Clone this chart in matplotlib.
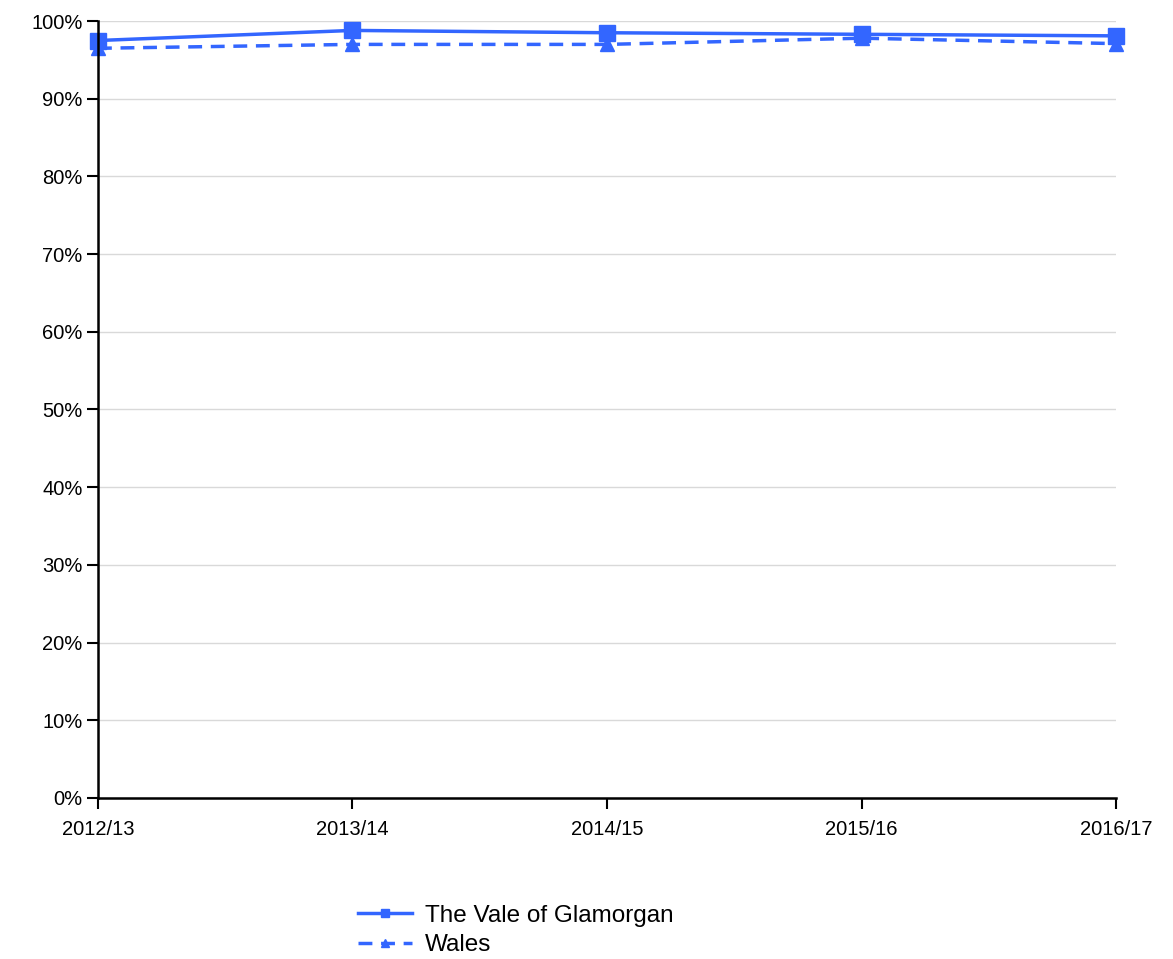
import matplotlib
matplotlib.use('Agg')
import matplotlib.pyplot as plt
import matplotlib.ticker as ticker

years = ['2012/13', '2013/14', '2014/15', '2015/16', '2016/17']
vale = [97.5, 98.8, 98.5, 98.3, 98.1]
wales = [96.5, 97.0, 97.0, 97.8, 97.1]

colour = '#3366ff'


def main():
    plt.rc('font', family=['Liberation Sans', 'DejaVu Sans'], size=14)

    fig = plt.figure(figsize=(11.73, 9.59), dpi=100)
    ax = fig.add_axes([0.0835, 0.168, 0.868, 0.81])

    x = list(range(len(years)))
    ax.plot(x, vale, '-', color=colour, lw=2.5, marker='s', markersize=11,
            clip_on=False, label='The Vale of Glamorgan')
    ax.plot(x, wales, '--', color=colour, lw=2.5, marker='^', markersize=10,
            dashes=(4, 2.5), clip_on=False, label='Wales')

    ax.set_xlim(0, len(years) - 1)
    ax.set_ylim(0, 100)
    ax.set_xticks(x)
    ax.set_xticklabels(years)
    ax.yaxis.set_major_locator(ticker.MultipleLocator(10))
    ax.yaxis.set_major_formatter(ticker.FuncFormatter(lambda v, p: f'{v:.0f}%'))
    ax.tick_params(axis='both', direction='out', length=8, width=1.5,
                   colors='black', labelsize=14.5)
    ax.tick_params(axis='y', pad=3)
    ax.tick_params(axis='x', pad=8)

    ax.grid(axis='y', color='#d9d9d9', lw=1)
    ax.set_axisbelow(True)
    for side in ('top', 'right'):
        ax.spines[side].set_visible(False)
    for side in ('left', 'bottom'):
        ax.spines[side].set_linewidth(1.8)
        ax.spines[side].set_color('black')

    leg = fig.legend(loc='upper left', bbox_to_anchor=(0.295, 0.069),
                     frameon=False, fontsize=17.5, handlelength=2.2,
                     labelspacing=0.3, handletextpad=0.55, borderpad=0)
    for line in leg.get_lines():
        line.set_markersize(6)

    fig.savefig('out.png', dpi=100)


if __name__ == '__main__':
    main()
